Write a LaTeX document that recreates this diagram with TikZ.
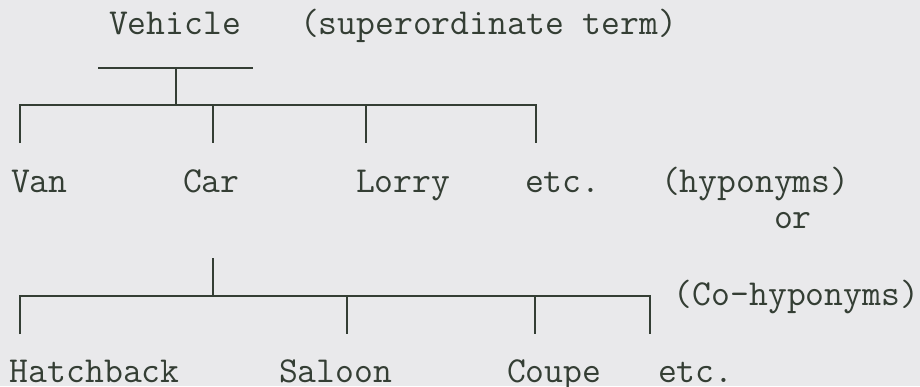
\documentclass[tikz,border=0pt]{standalone}
\definecolor{bg}{RGB}{233,233,235}
\definecolor{ink}{RGB}{52,62,52}
\begin{document}
\begin{tikzpicture}[x=0.5pt,y=-0.5pt,
  lbl/.style={anchor=base west,inner sep=0pt,outer sep=0pt,text=ink,font=\fontsize{18.3pt}{20pt}\ttfamily},
  tree/.style={draw=ink,line width=1pt,line cap=butt}]
\fill[bg] (0,0) rectangle (920,386);
\useasboundingbox (0,0) rectangle (920,386);
% labels
\node[lbl] (vehicle) at (109,34) {Vehicle};
\node[lbl] (super) at (300,34) {(superordinate term)};
\node[lbl] (van) at (11,192) {Van};
\node[lbl] (car) at (183,192) {Car};
\node[lbl] (lorry) at (356,192) {Lorry};
\node[lbl] (etc1) at (525,192) {etc.};
\node[lbl] (hypo) at (661,192) {(hyponyms)};
\node[lbl] (or) at (774,228) {or};
\node[lbl,anchor=base east] (cohypo) at (919,305) {(Co-hyponyms)};
\node[lbl] (hatch) at (10,382) {Hatchback};
\node[lbl] (saloon) at (279,382) {Saloon};
\node[lbl] (coupe) at (507,382) {Coupe};
\node[lbl] (etc2) at (658,382) {etc.};
% upper tree coordinates
\coordinate (tbL) at (98,68);
\coordinate (tbR) at (253,68);
\coordinate (tbM) at (176,68);
\coordinate (j1) at (176,105);
\coordinate (b1L) at (20,105);
\coordinate (b1R) at (536,105);
\coordinate (d1a) at (20,143);
\coordinate (t1b) at (213,105);
\coordinate (d1b) at (213,143);
\coordinate (t1c) at (366,105);
\coordinate (d1c) at (366,143);
\coordinate (d1d) at (536,143);
\draw[tree] (tbL) -- (tbR);
\draw[tree] (tbM) -- (j1);
\draw[tree] (d1a) -- (b1L) -- (b1R) -- (d1d);
\draw[tree] (t1b) -- (d1b);
\draw[tree] (t1c) -- (d1c);
% lower tree coordinates
\coordinate (s2T) at (213,258);
\coordinate (s2B) at (213,296);
\coordinate (b2L) at (20,296);
\coordinate (b2R) at (650,296);
\coordinate (d2a) at (20,334);
\coordinate (t2b) at (347,296);
\coordinate (d2b) at (347,334);
\coordinate (t2c) at (535,296);
\coordinate (d2c) at (535,334);
\coordinate (d2d) at (650,334);
\draw[tree] (s2T) -- (s2B);
\draw[tree] (d2a) -- (b2L) -- (b2R) -- (d2d);
\draw[tree] (t2b) -- (d2b);
\draw[tree] (t2c) -- (d2c);
\end{tikzpicture}
\end{document}
